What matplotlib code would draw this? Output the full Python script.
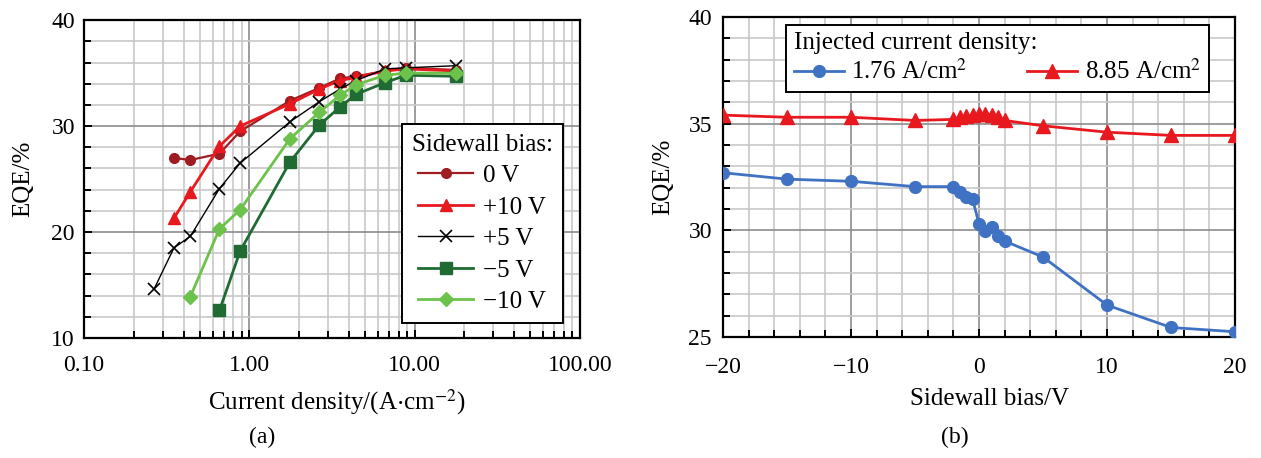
import matplotlib
matplotlib.use("Agg")
import matplotlib.pyplot as plt
import numpy as np
from matplotlib.ticker import LogLocator, MultipleLocator, FormatStrFormatter, NullFormatter

plt.rcParams["font.family"] = ["Liberation Serif", "DejaVu Serif"]
plt.rcParams["mathtext.fontset"] = "stix"
plt.rcParams["axes.unicode_minus"] = True

# panel (a): EQE vs current density for several sidewall biases
j_0v = [0.35, 0.44, 0.66, 0.88, 1.76, 2.65, 3.54, 4.42, 6.63, 8.85, 17.7]
eqe_0v = [27.0, 26.8, 27.4, 29.5, 32.4, 33.6, 34.5, 34.7, 35.2, 35.5, 35.3]
j_p10 = [0.35, 0.44, 0.66, 0.88, 1.76, 2.65, 3.54, 4.42, 6.63, 8.85, 17.7]
eqe_p10 = [21.3, 23.8, 28.1, 30.0, 32.1, 33.5, 34.3, 34.6, 35.2, 35.4, 35.2]
j_p5 = [0.265, 0.35, 0.44, 0.66, 0.88, 1.76, 2.65, 3.54, 4.42, 6.63, 8.85, 17.7]
eqe_p5 = [14.6, 18.5, 19.6, 24.1, 26.5, 30.4, 32.3, 33.5, 34.3, 35.4, 35.5, 35.7]
j_m5 = [0.66, 0.88, 1.76, 2.65, 3.54, 4.42, 6.63, 8.85, 17.7]
eqe_m5 = [12.6, 18.2, 26.6, 30.1, 31.8, 33.0, 34.1, 34.8, 34.7]
j_m10 = [0.44, 0.66, 0.88, 1.76, 2.65, 3.54, 4.42, 6.63, 8.85, 17.7]
eqe_m10 = [13.9, 20.3, 22.1, 28.8, 31.3, 32.9, 33.9, 34.8, 35.0, 35.0]

# panel (b): EQE vs sidewall bias at two current densities
bias = [-20, -15, -10, -5, -2, -1.5, -1, -0.5, 0, 0.5, 1, 1.5, 2, 5, 10, 15, 20]
eqe_176 = [32.7, 32.4, 32.3, 32.05, 32.05, 31.8, 31.55, 31.45, 30.3, 29.95,
           30.15, 29.75, 29.5, 28.75, 26.5, 25.45, 25.25]
eqe_885 = [35.4, 35.3, 35.3, 35.15, 35.2, 35.3, 35.35, 35.4, 35.45, 35.45,
           35.4, 35.3, 35.15, 34.9, 34.6, 34.45, 34.45]

FS = 17   # ticks
FG = 18   # legends
FL = 18   # axis labels
dark_red = "#9e1c22"
red = "#e8191e"
dark_green = "#1f6b33"
light_green = "#6cc24a"
blue = "#3f72c2"

fig = plt.figure(figsize=(12.61, 4.58), dpi=100)
ax1 = fig.add_axes([0.0666, 0.262, 0.3933, 0.694])
ax2 = fig.add_axes([0.5734, 0.264, 0.406, 0.699])


def style(ax, xpad, ypad):
    ax.grid(True, which="minor", color="#c8c8c8", lw=1.2, zorder=0)
    ax.grid(True, which="major", color="#8c8c8c", lw=1.2, zorder=0)
    ax.tick_params(which="both", direction="in", top=False, right=False,
                   labelsize=FS, width=1.4, color="black")
    ax.tick_params(which="major", length=6)
    ax.tick_params(which="minor", length=5)
    ax.tick_params(axis="x", which="both", pad=xpad)
    ax.tick_params(axis="y", which="both", pad=ypad)
    for s in ax.spines.values():
        s.set_linewidth(1.6)
        s.set_color("black")
    ax.set_axisbelow(True)


# ---- (a)
ax1.plot(j_0v, eqe_0v, "-o", color=dark_red, lw=1.6, ms=7, label="0 V", zorder=3)
ax1.plot(j_p10, eqe_p10, "-^", color=red, lw=2, ms=9, label="+10 V", zorder=3)
ax1.plot(j_p5, eqe_p5, "-x", color="black", lw=1, ms=8, mew=1.2, label="+5 V", zorder=3)
ax1.plot(j_m5, eqe_m5, "-s", color=dark_green, lw=2, ms=8, label="\u22125 V", zorder=3)
ax1.plot(j_m10, eqe_m10, "-D", color=light_green, lw=2, ms=7, label="\u221210 V", zorder=3)
ax1.set_xscale("log")
ax1.set_xlim(0.1, 100)
ax1.set_ylim(10, 40)
ax1.xaxis.set_major_locator(LogLocator(base=10, numticks=10))
ax1.xaxis.set_minor_locator(LogLocator(base=10, subs=np.arange(2, 10), numticks=20))
ax1.xaxis.set_major_formatter(FormatStrFormatter("%.2f"))
ax1.xaxis.set_minor_formatter(NullFormatter())
ax1.yaxis.set_major_locator(MultipleLocator(10))
ax1.yaxis.set_minor_locator(MultipleLocator(2))
style(ax1, 12, 6.5)
ax1.set_xlabel(r"Current density/(A$\cdot$cm$^{-2}$)", fontsize=FL)
ax1.set_ylabel("EQE/%", fontsize=FL)
ax1.xaxis.set_label_coords(0.51, -0.155)
ax1.yaxis.set_label_coords(-0.10, 0.5)
leg1 = ax1.legend(loc="lower right", bbox_to_anchor=(0.965, 0.047), borderaxespad=0,
                  fontsize=FG, title="Sidewall bias:", title_fontsize=FG,
                  fancybox=False, framealpha=1, edgecolor="black",
                  handlelength=2.2, handletextpad=0.4, borderpad=0.4,
                  labelspacing=0.36)
leg1.get_frame().set_linewidth(1.4)

# ---- (b)
ax2.plot(bias, eqe_176, "-o", color=blue, lw=2, ms=8.5, label="1.76 A/cm$^2$", zorder=3)
ax2.plot(bias, eqe_885, "-^", color=red, lw=2, ms=10, label="8.85 A/cm$^2$", zorder=3)
ax2.set_xlim(-20, 20)
ax2.set_ylim(25, 40)
ax2.xaxis.set_major_locator(MultipleLocator(10))
ax2.xaxis.set_minor_locator(MultipleLocator(2))
ax2.yaxis.set_major_locator(MultipleLocator(5))
ax2.yaxis.set_minor_locator(MultipleLocator(1))
style(ax2, 14, 8)
ax2.set_xlabel("Sidewall bias/V", fontsize=FL)
ax2.set_ylabel("EQE/%", fontsize=FL)
ax2.xaxis.set_label_coords(0.52, -0.158)
ax2.yaxis.set_label_coords(-0.096, 0.5)
leg2 = ax2.legend(loc="upper left", bbox_to_anchor=(0.123, 0.975), borderaxespad=0,
                  ncol=2, fontsize=FG, title="Injected current density:",
                  title_fontsize=FG, fancybox=False, framealpha=1,
                  edgecolor="black", handlelength=2.0, handletextpad=0.3,
                  borderpad=0.3, columnspacing=2.4, labelspacing=0.2)
leg2.get_frame().set_linewidth(1.4)
leg2._legend_box.align = "left"

fig.text(0.2078, 0.045, "(a)", fontsize=FS, ha="center", va="center")
fig.text(0.7573, 0.045, "(b)", fontsize=FS, ha="center", va="center")

fig.savefig("out.png", dpi=100)
